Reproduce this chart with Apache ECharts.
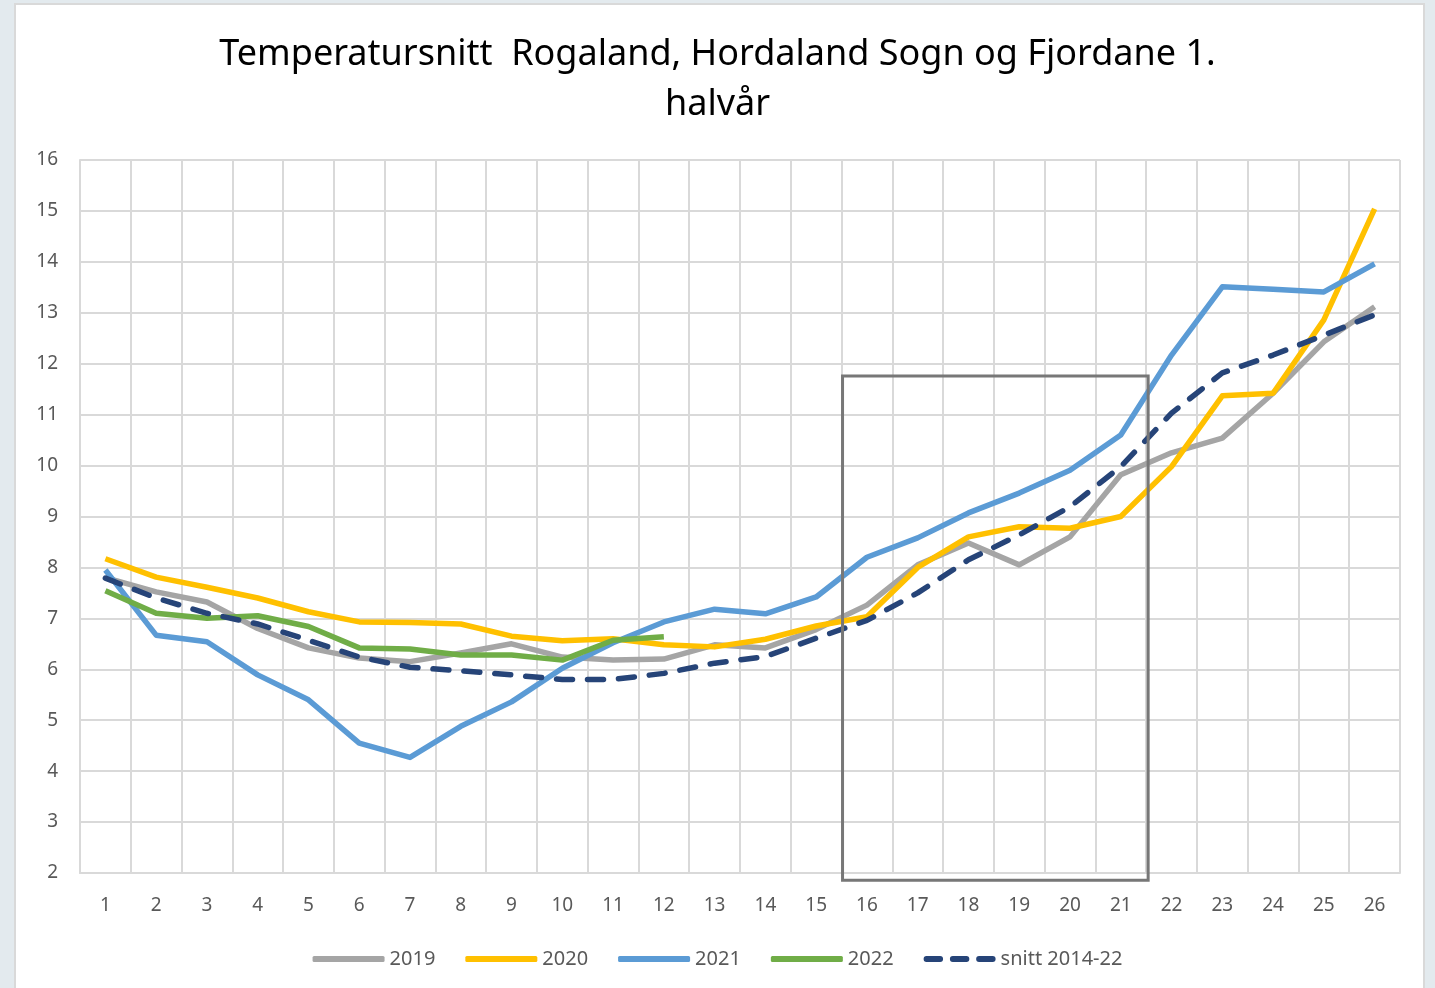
<!DOCTYPE html>
<html>
<head>
<meta charset="utf-8">
<script src="https://cdn.jsdelivr.net/npm/echarts@6/dist/echarts.min.js"></script>
<style>
  html, body { margin: 0; padding: 0; background: #e3eaee; }
  #panel { position: absolute; left: 14px; top: 3px; width: 1411px; height: 1000px; background: #fff; border: 2px solid #d9d9d9; box-sizing: border-box; }
  #main { position: absolute; left: 0; top: 0; width: 1435px; height: 988px; }
</style>
</head>
<body>
<div id="panel"></div>
<div id="main"></div>
<script>
// uke 1-26
var weeks = ['1','2','3','4','5','6','7','8','9','10','11','12','13','14','15','16','17','18','19','20','21','22','23','24','25','26'];

var y2019 = [7.8, 7.52, 7.32, 6.8, 6.42, 6.22, 6.15, 6.32, 6.5, 6.24, 6.18, 6.2, 6.48, 6.42, 6.78, 7.26, 8.05, 8.48, 8.05, 8.6, 9.82, 10.25, 10.54, 11.42, 12.43, 13.12];
var y2020 = [8.17, 7.81, 7.61, 7.4, 7.13, 6.93, 6.92, 6.89, 6.65, 6.56, 6.6, 6.48, 6.44, 6.59, 6.85, 7.03, 8.0, 8.6, 8.8, 8.77, 9.0, 9.98, 11.37, 11.42, 12.86, 15.04];
var y2021 = [7.95, 6.67, 6.54, 5.89, 5.4, 4.55, 4.27, 4.88, 5.36, 6.02, 6.52, 6.93, 7.18, 7.09, 7.42, 8.2, 8.58, 9.07, 9.46, 9.91, 10.6, 12.17, 13.51, 13.46, 13.41, 13.96];
var y2022 = [7.54, 7.1, 7.0, 7.05, 6.84, 6.42, 6.4, 6.28, 6.28, 6.18, 6.57, 6.64];
var snitt = [7.79, 7.4, 7.1, 6.89, 6.57, 6.24, 6.04, 5.97, 5.89, 5.8, 5.8, 5.92, 6.12, 6.25, 6.61, 6.96, 7.5, 8.15, 8.64, 9.19, 9.98, 11.03, 11.82, 12.17, 12.56, 12.96];

// markert periode (uke 16-21)
var boxFrom = 15, boxTo = 20;   // index i weeks
var boxTop = 11.76, boxBottom = 1.86;

var txt = '#595959';
var grid = '#d9d9d9';

// legend-ikon for stiplet linje
var dashIcon = 'path://M3,0h14a3,3 0 0 1 0,6h-14a3,3 0 0 1 0,-6z' +
  'M30,0h14a3,3 0 0 1 0,6h-14a3,3 0 0 1 0,-6z' +
  'M57,0h14a3,3 0 0 1 0,6h-14a3,3 0 0 1 0,-6z';

var chart = echarts.init(document.getElementById('main'));

function line(name, data, color, dashed) {
  return {
    name: name,
    type: 'line',
    data: data,
    symbol: 'none',
    lineStyle: { color: color, width: 5.5, type: dashed ? [16, 15] : 'solid', cap: dashed ? 'round' : 'butt', join: 'round' },
    itemStyle: { color: color },
    z: dashed ? 3 : 2
  };
}

var option = {
  animation: false,
  title: {
    text: 'Temperatursnitt  Rogaland, Hordaland Sogn og Fjordane 1.\nhalvår',
    left: 'center',
    top: 25,
    textStyle: { fontFamily: 'Noto Sans', fontSize: 36, fontWeight: 'normal', color: '#000', lineHeight: 50 }
  },
  grid: { left: 80, right: 35, top: 160, bottom: 115 },
  legend: {
    bottom: 14,
    left: 'center',
    itemWidth: 72,
    itemHeight: 6,
    itemGap: 30,
    textStyle: { fontFamily: 'Noto Sans', fontSize: 20, color: txt },
    data: [
      { name: '2019', icon: 'roundRect' },
      { name: '2020', icon: 'roundRect' },
      { name: '2021', icon: 'roundRect' },
      { name: '2022', icon: 'roundRect' },
      { name: 'snitt 2014-22', icon: dashIcon }
    ]
  },
  xAxis: {
    type: 'category',
    data: weeks,
    boundaryGap: true,
    axisLine: { lineStyle: { color: grid, width: 2 } },
    axisTick: { show: false },
    axisLabel: { color: txt, fontFamily: 'Noto Sans', fontSize: 19, margin: 23, interval: 0 },
    splitLine: { show: true, interval: 0, lineStyle: { color: grid, width: 2 } }
  },
  yAxis: {
    type: 'value',
    min: 2,
    max: 16,
    interval: 1,
    axisLine: { show: true, lineStyle: { color: grid, width: 2 } },
    axisTick: { show: false },
    axisLabel: { color: txt, fontFamily: 'Noto Sans', fontSize: 19, margin: 22 },
    splitLine: { lineStyle: { color: grid, width: 2 } }
  },
  series: [
    line('2019', y2019, '#a5a5a5'),
    line('2020', y2020, '#ffc000'),
    line('2021', y2021, '#5b9bd5'),
    line('2022', y2022, '#70ad47'),
    line('snitt 2014-22', snitt, '#264478', true)
  ]
};
chart.setOption(option);

// ramme rundt uke 16-21
var bw = chart.convertToPixel({ xAxisIndex: 0 }, 1) - chart.convertToPixel({ xAxisIndex: 0 }, 0);
var x0 = chart.convertToPixel({ xAxisIndex: 0 }, boxFrom) - bw / 2 + 1;
var x1 = chart.convertToPixel({ xAxisIndex: 0 }, boxTo) + bw / 2 + 2;
var yT = chart.convertToPixel({ yAxisIndex: 0 }, boxTop);
var yB = chart.convertToPixel({ yAxisIndex: 0 }, boxBottom);
chart.setOption({
  graphic: [{
    type: 'rect',
    shape: { x: x0, y: yT, width: x1 - x0, height: yB - yT },
    style: { fill: 'none', stroke: '#777777', lineWidth: 3 },
    z: 10
  }]
});
</script>
</body>
</html>
